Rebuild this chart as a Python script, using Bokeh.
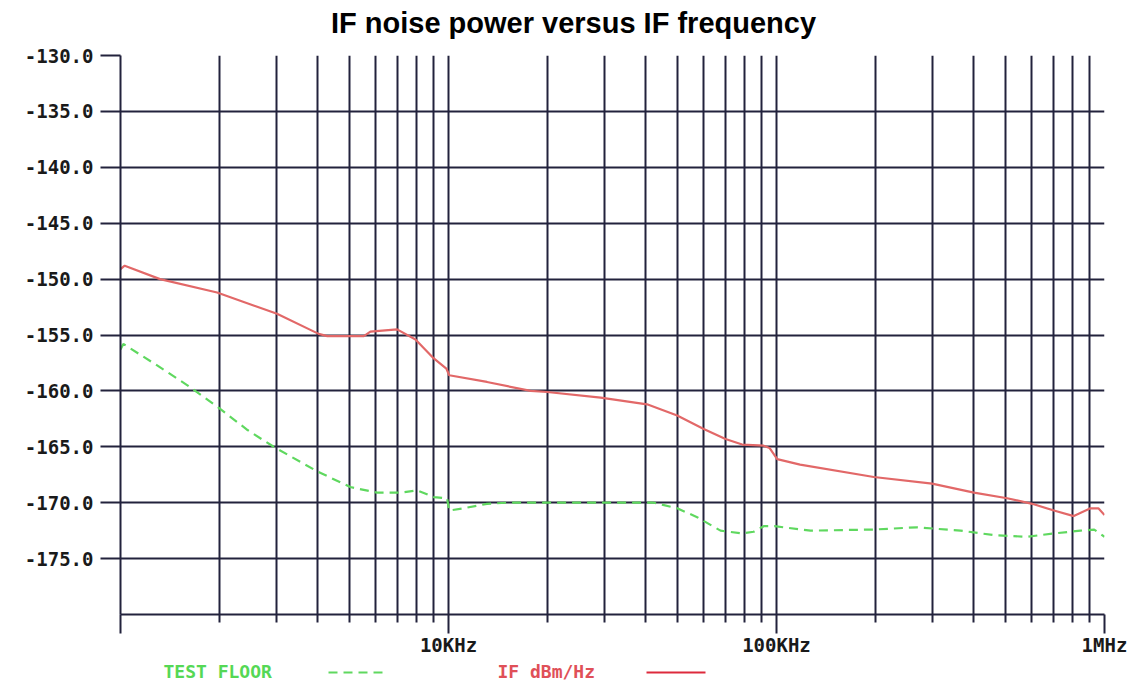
from bokeh.plotting import figure
from bokeh.models import Range1d, FixedTicker, CustomJSTickFormatter
from bokeh.layouts import column
from bokeh.core.properties import value
from bokeh.embed import file_html
from bokeh.resources import INLINE

# ---------------- data ----------------
title_text = "IF noise power versus IF frequency"

if_freq_khz = [1.0, 1.03, 1.32, 1.97, 3.0, 4.02, 4.27, 5.52, 5.78, 6.97, 7.93, 9.02,
               9.85, 10.05, 13.1, 17.8, 20.0, 29.1, 40.3, 49.8, 60.0, 69.9, 78.6,
               91.4, 95.2, 100.5, 118.0, 198.0, 298.0, 400.0, 505.0, 602.0, 701.0,
               806.0, 906.0, 958.0, 1000.0]
if_dbm_hz = [-149.1, -148.8, -150.0, -151.2, -153.1, -154.9, -155.1, -155.1, -154.7,
             -154.5, -155.4, -157.1, -158.0, -158.6, -159.2, -160.0, -160.1, -160.6,
             -161.2, -162.2, -163.4, -164.3, -164.8, -164.9, -165.1, -166.1, -166.6,
             -167.7, -168.3, -169.1, -169.6, -170.1, -170.7, -171.2, -170.5, -170.5,
             -171.1]

floor_freq_khz = [1.0, 1.02, 1.29, 1.6, 1.97, 2.44, 2.93, 3.98, 5.02, 6.06, 7.14, 8.03,
                  9.02, 9.9, 10.05, 11.1, 13.1, 15.1, 20.0, 30.0, 42.2, 49.8, 57.3,
                  67.5, 78.6, 85.2, 91.4, 98.6, 127.0, 198.0, 268.0, 364.0, 460.0,
                  581.0, 701.0, 845.0, 930.0, 1000.0]
floor_dbm_hz = [-156.3, -155.8, -157.7, -159.5, -161.4, -163.5, -165.0, -167.2, -168.6,
                -169.1, -169.1, -168.9, -169.5, -169.6, -170.7, -170.5, -170.1, -170.0,
                -170.0, -170.0, -170.0, -170.5, -171.3, -172.5, -172.75, -172.6, -172.1,
                -172.1, -172.5, -172.4, -172.2, -172.5, -172.9, -173.05, -172.75, -172.5,
                -172.4, -173.05]

x_ticks = [1e3, 1e4, 1e5, 1e6]
x_tick_labels = ["", "10KHz", "100KHz", "1MHz"]
y_ticks = [-175, -170, -165, -160, -155, -150, -145, -140, -135, -130]
y_tick_labels = ["-175.0", "-170.0", "-165.0", "-160.0", "-155.0", "-150.0",
                 "-145.0", "-140.0", "-135.0", "-130.0"]

legend_labels = ["TEST FLOOR", "IF dBm/Hz"]

# ---------------- styles / layout ----------------
GRID = "#22223c"
RED = "#e26868"
GREEN = "#5fd85f"
MONO = "DejaVu Sans Mono"
W, H = 1140, 684
F_LEFT, F_RIGHT, F_TOP, F_BOTTOM = 120, 1104, 55, 614   # frame edges in page px
TITLE_H = 44
MAIN_BOTTOM = 660


def strip(top, bottom):
    """A plain strip figure whose data coordinates equal page pixels."""
    s = figure(width=W, height=bottom - top, x_range=Range1d(F_LEFT, F_RIGHT),
               y_range=Range1d(bottom, top),
               toolbar_location=None, output_backend="svg",
               x_axis_location=None, y_axis_location=None,
               min_border_left=F_LEFT, min_border_right=W - F_RIGHT,
               min_border_top=0, min_border_bottom=0)
    s.grid.visible = False
    s.outline_line_color = None
    return s


# ---------------- title strip ----------------
tf = strip(0, TITLE_H)
tf.text(x=[573], y=[22], text=[title_text], text_font=value("Liberation Sans"),
        text_font_style="bold", text_font_size="29px", text_align="center",
        text_baseline="middle", text_color="#000000")

# ---------------- main plot ----------------
p = figure(width=W, height=MAIN_BOTTOM - TITLE_H, x_axis_type="log",
           x_range=Range1d(1e3, 1e6), y_range=Range1d(-180, -130),
           toolbar_location=None, output_backend="svg",
           min_border_left=F_LEFT, min_border_right=W - F_RIGHT,
           min_border_top=F_TOP - TITLE_H, min_border_bottom=MAIN_BOTTOM - F_BOTTOM)
p.outline_line_color = None
p.background_fill_color = "white"

xt = FixedTicker(ticks=x_ticks,
                 minor_ticks=[m * d for d in [1e3, 1e4, 1e5] for m in range(2, 10)])
yt = FixedTicker(ticks=y_ticks)
p.xaxis.ticker = xt
p.yaxis.ticker = yt
p.xgrid.ticker = xt
p.ygrid.ticker = yt

fmt_code = """
for (let i = 0; i < vals.length; i++) {
  if (Math.abs(vals[i] - tick) <= 1e-6 * Math.abs(vals[i])) return labs[i];
}
return '';
"""
p.xaxis.formatter = CustomJSTickFormatter(args=dict(vals=x_ticks, labs=x_tick_labels), code=fmt_code)
p.yaxis.formatter = CustomJSTickFormatter(args=dict(vals=y_ticks, labs=y_tick_labels), code=fmt_code)

for ax in (p.xaxis, p.yaxis):
    ax.axis_line_color = GRID
    ax.axis_line_width = 2
    ax.major_tick_line_color = GRID
    ax.major_tick_line_width = 2
    ax.minor_tick_line_color = GRID
    ax.minor_tick_line_width = 2
    ax.major_tick_in = 0
    ax.minor_tick_in = 0
    ax.major_label_text_font = MONO
    ax.major_label_text_font_style = "bold"
    ax.major_label_text_font_size = "19px"
    ax.major_label_text_color = "#1a1a1a"

p.xaxis.major_tick_out = 19
p.xaxis.minor_tick_out = 8
p.xaxis.major_label_standoff = 0
p.yaxis.major_tick_out = 20
p.yaxis.minor_tick_out = 0
p.yaxis.major_label_standoff = 7

for g in (p.xgrid, p.ygrid):
    g.grid_line_color = GRID
    g.grid_line_width = 2
p.xgrid.minor_grid_line_color = GRID
p.xgrid.minor_grid_line_width = 2

if_freq_hz = [f * 1000 for f in if_freq_khz]
floor_freq_hz = [f * 1000 for f in floor_freq_khz]

p.line(floor_freq_hz, floor_dbm_hz, line_color=GREEN, line_width=2.2, line_dash="9 6")
p.line(if_freq_hz, if_dbm_hz, line_color=RED, line_width=2.2)

# ---------------- legend strip ----------------
lf = strip(MAIN_BOTTOM, H)
lf.text(x=[163], y=[671], text=[legend_labels[0]], text_font=value(MONO), text_font_style="bold",
        text_font_size="18px", text_align="left", text_baseline="middle", text_color="#55d855")
lf.line(x=[328, 388], y=[672, 672], line_color=GREEN, line_width=2.2, line_dash="9 6")
lf.text(x=[497], y=[671], text=[legend_labels[1]], text_font=value(MONO), text_font_style="bold",
        text_font_size="18px", text_align="left", text_baseline="middle", text_color="#e05058")
lf.line(x=[646, 705], y=[672, 672], line_color="#dd2a3c", line_width=2.2)

layout = column(tf, p, lf, spacing=0)
open("out.html", "w").write(file_html(layout, INLINE))
